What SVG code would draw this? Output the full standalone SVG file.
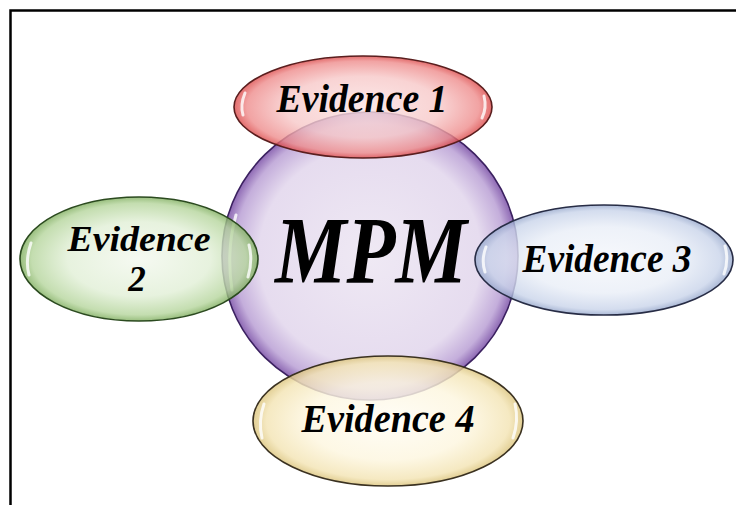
<svg xmlns="http://www.w3.org/2000/svg" width="736" height="505" viewBox="0 0 736 505">
<defs>
<radialGradient id="gPurple" cx="50%" cy="50%" r="50%">
<stop offset="0" stop-color="#efe9f4"/><stop offset="0.75" stop-color="#e6dcef"/><stop offset="0.92" stop-color="#c4aedb"/><stop offset="1" stop-color="#8d68b3"/>
</radialGradient>
<radialGradient id="gRed" cx="50%" cy="50%" r="50%">
<stop offset="0" stop-color="#fbe3e3"/><stop offset="0.6" stop-color="#f7c8c8"/><stop offset="0.9" stop-color="#ee8c8c"/><stop offset="1" stop-color="#dc4a4a"/>
</radialGradient>
<radialGradient id="gGreen" cx="50%" cy="50%" r="50%">
<stop offset="0" stop-color="#f3f8ee"/><stop offset="0.6" stop-color="#e1efd6"/><stop offset="0.9" stop-color="#b5d59c"/><stop offset="1" stop-color="#7fae5e"/>
</radialGradient>
<radialGradient id="gBlue" cx="50%" cy="50%" r="50%">
<stop offset="0" stop-color="#f5f7fb"/><stop offset="0.6" stop-color="#e9eef7"/><stop offset="0.9" stop-color="#c9d4ea"/><stop offset="1" stop-color="#97a8cc"/>
</radialGradient>
<radialGradient id="gYellow" cx="50%" cy="50%" r="50%">
<stop offset="0" stop-color="#fffdf5"/><stop offset="0.6" stop-color="#fdf6df"/><stop offset="0.9" stop-color="#f3e4b4"/><stop offset="1" stop-color="#dcc57e"/>
</radialGradient>
</defs>
<style>
.lbl{font-family:"Liberation Serif","Times New Roman",serif;font-weight:bold;font-style:italic;fill:#000;text-anchor:middle}
.ev{font-size:40px}
.ev2{font-size:35px}
.shape{stroke-width:1.6}
.hl{fill:none;stroke:#fff;stroke-width:3;stroke-linecap:round;opacity:0.8}
</style>
<rect x="0" y="0" width="736" height="505" fill="#fff"/>
<path d="M10.5 505 V10.5 H736" fill="none" stroke="#000" stroke-width="2.5"/>
<g id="connectors"/>
<g id="node-mpm">
<ellipse class="shape" cx="370" cy="256" rx="148" ry="144" fill="url(#gPurple)" stroke="#3b2160"/>
<path class="hl" d="M232 290 Q226 250 236 215"/>
<text class="lbl" x="371" y="283" font-size="96" textLength="192" lengthAdjust="spacingAndGlyphs">MPM</text>
</g>
<g id="node-evidence1">
<ellipse class="shape" cx="363" cy="107" rx="129" ry="51" fill="url(#gRed)" fill-opacity="0.8" stroke="#5a1e1e"/>
<path class="hl" d="M243 115 Q240 105 245 93"/>
<path class="hl" d="M484 96 Q487 108 482 118"/>
<text class="lbl ev" x="362" y="112" textLength="171" lengthAdjust="spacingAndGlyphs">Evidence 1</text>
</g>
<g id="node-evidence2">
<ellipse class="shape" cx="139" cy="259" rx="119" ry="62" fill="url(#gGreen)" fill-opacity="0.8" stroke="#2b4a1f"/>
<path class="hl" d="M29 275 Q25 260 31 243"/>
<path class="hl" d="M249 245 Q253 260 248 277"/>
<text class="lbl ev2" x="139" y="251" textLength="143" lengthAdjust="spacingAndGlyphs">Evidence</text>
<text class="lbl ev2" x="137" y="291">2</text>
</g>
<g id="node-evidence3">
<ellipse class="shape" cx="604" cy="260" rx="129" ry="55" fill="url(#gBlue)" fill-opacity="0.8" stroke="#272c45"/>
<path class="hl" d="M485 272 Q481 260 486 247"/>
<path class="hl" d="M725 246 Q729 260 724 274"/>
<text class="lbl ev" x="607" y="272" textLength="169" lengthAdjust="spacingAndGlyphs">Evidence 3</text>
</g>
<g id="node-evidence4">
<ellipse class="shape" cx="388" cy="421" rx="135" ry="65" fill="url(#gYellow)" fill-opacity="0.82" stroke="#3a3120"/>
<path class="hl" d="M262 438 Q258 421 264 404"/>
<path class="hl" d="M515 404 Q519 421 513 438"/>
<text class="lbl ev" x="388" y="432" textLength="173" lengthAdjust="spacingAndGlyphs">Evidence 4</text>
</g>
</svg>
